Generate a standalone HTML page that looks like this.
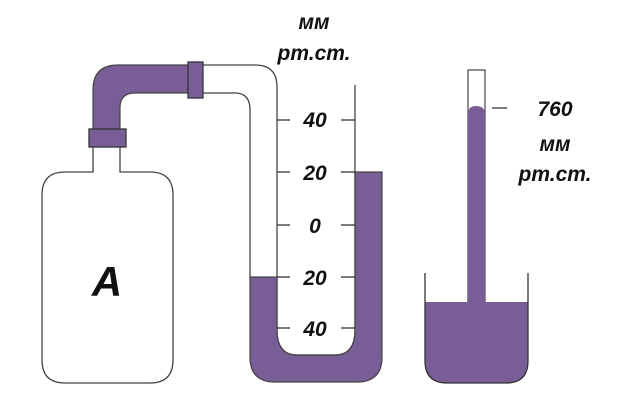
<!DOCTYPE html>
<html><head><meta charset="utf-8"><style>
html,body{margin:0;padding:0;background:#fff;width:624px;height:407px;overflow:hidden}
text{font-family:"Liberation Sans",sans-serif;font-weight:bold;font-style:italic;fill:#111}
</style></head><body>
<svg width="624" height="407" viewBox="0 0 624 407" xmlns="http://www.w3.org/2000/svg">
<g fill="none" stroke="#444" stroke-width="1.3">
<path d="M93,147 V172 H65 Q42,172 42,195 V360 Q42,383 65,383 H150 Q173,383 173,360 V195 Q173,172 150,172 H120 V147" fill="#fff"/>
</g>
<path d="M93,129 V90 Q93,65 118,65 H190 V93 H135 Q120,93 120,108 V129 Z" fill="#785d96" stroke="#444" stroke-width="1.2"/>
<rect x="89" y="129" width="37" height="18" fill="#785d96" stroke="#333" stroke-width="1.3"/>
<path d="M203,65 H255 Q277,65 277,87 V330 Q277,355 297,355 H335 Q355,355 355,330 V85" fill="none" stroke="#444" stroke-width="1.3"/>
<path d="M203,93 H235 Q250,93 250,110 V277" fill="none" stroke="#444" stroke-width="1.3"/>
<path d="M250,277 H277 V330 Q277,355 297,355 H335 Q355,355 355,330 V172 H382 V357 Q382,382 357,382 H275 Q250,382 250,357 Z" fill="#785d96" stroke="#444" stroke-width="1.2"/>
<rect x="188" y="62" width="15" height="36" fill="#785d96" stroke="#333" stroke-width="1.3"/>
<g stroke="#333" stroke-width="1.3">
<line x1="277" y1="120" x2="290" y2="120"/><line x1="341" y1="120" x2="355" y2="120"/>
<line x1="277" y1="172" x2="290" y2="172"/><line x1="341" y1="172" x2="355" y2="172"/>
<line x1="277" y1="225" x2="290" y2="225"/><line x1="341" y1="225" x2="355" y2="225"/>
<line x1="277" y1="277" x2="290" y2="277"/><line x1="341" y1="277" x2="355" y2="277"/>
<line x1="277" y1="328" x2="290" y2="328"/><line x1="341" y1="328" x2="355" y2="328"/>
<line x1="492" y1="108" x2="507" y2="108"/>
</g>
<g font-size="21" text-anchor="middle">
<text x="315" y="127">40</text><text x="315" y="180">20</text><text x="315" y="233">0</text>
<text x="315" y="285">20</text><text x="315" y="336">40</text>
<text x="314" y="29">мм</text><text x="314" y="60">рт.ст.</text>
<text x="555" y="116">760</text><text x="555" y="151">мм</text><text x="555" y="181">рт.ст.</text>
</g>
<text x="107" y="296" font-size="42" text-anchor="middle">A</text>
<rect x="468" y="70" width="17" height="232" fill="#fff" stroke="#444" stroke-width="1.2"/>
<path d="M468,302 V114 Q468,106 476,106 Q485,106 485,114 V302 Z" fill="#785d96"/>
<path d="M425,302 H528 V361 Q528,383 506,383 H447 Q425,383 425,361 Z" fill="#785d96"/>
<path d="M425,273 V361 Q425,383 447,383 H506 Q528,383 528,361 V273" fill="none" stroke="#333" stroke-width="1.3"/>
</svg>
</body></html>
